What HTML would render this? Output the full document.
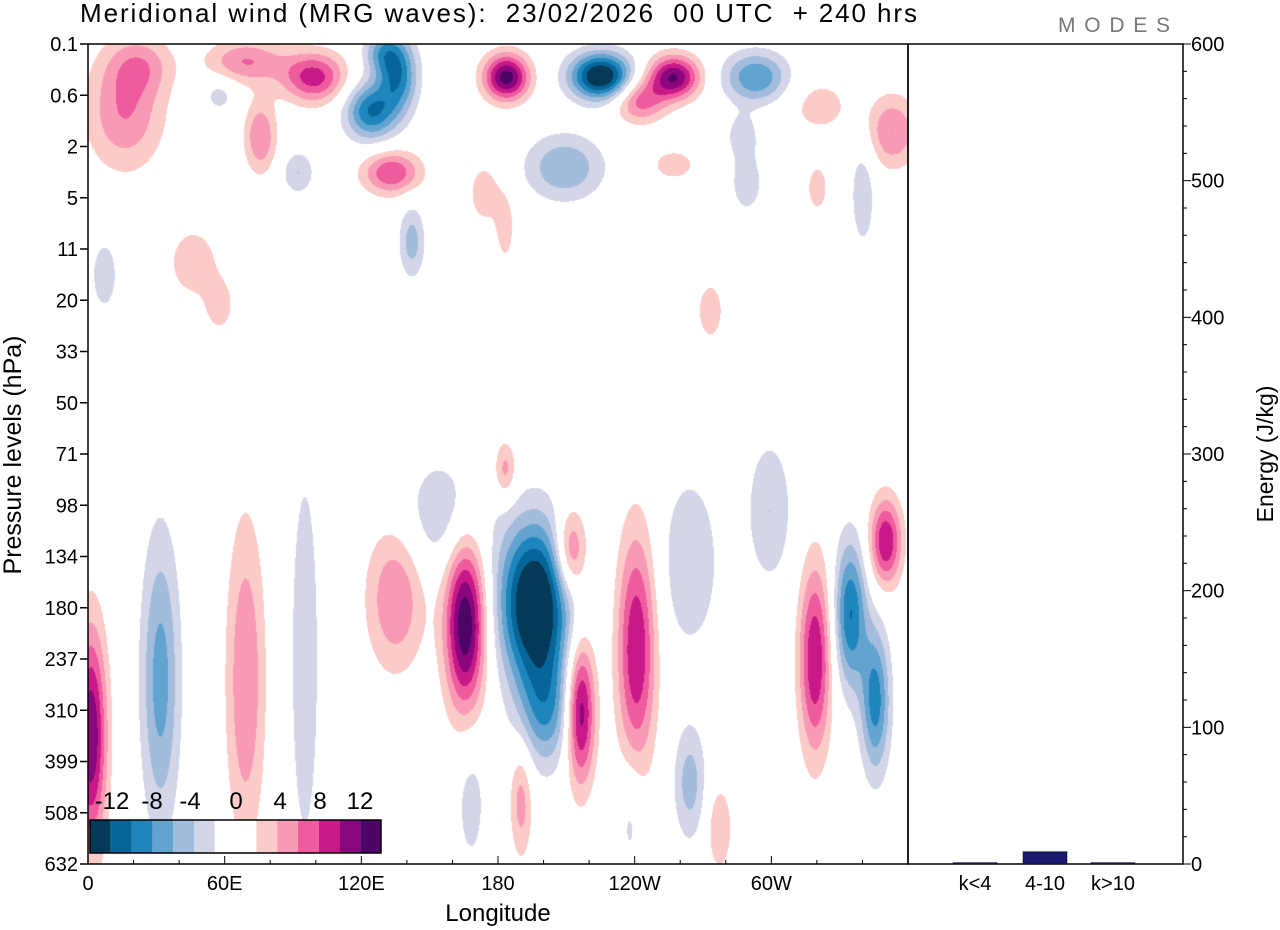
<!DOCTYPE html>
<html><head><meta charset="utf-8"><style>
body{margin:0;background:#fff;font-family:"Liberation Sans",sans-serif;}
#wrap{position:relative;width:1280px;height:930px;overflow:hidden;}
canvas{position:absolute;left:88px;top:44px;}
svg{position:absolute;left:0;top:0;}
text{white-space:pre;}
</style></head><body>
<div id="wrap">
<canvas id="cv" width="820" height="820"></canvas>
<svg id="sv" width="1280" height="930"></svg>
</div>
<script>
// ---- data ----
const levelLabels=["0.1","0.6","2","5","11","20","33","50","71","98","134","180","237","310","399","508","632"];
const lonTicks=[0,60,120,180,240,300];
const lonTickLabels=["0","60E","120E","180","120W","60W"];
const energyTicks=[0,100,200,300,400,500,600];
const energyCats=["k<4","4-10","k>10"];
const energyVals=[1,9,1];
const cbLabels=["-12","-8","-4","0","4","8","12"];
// wind anomaly blobs: longitude (deg east), level index, amplitude (m/s), spread lon (deg), spread level idx
const blobLon=[196,200.6,156,165.5,216,240.6,211.6,183,134.8,1,31.6,69,95,334.5,345.5,350,319,299,264,264,190,277,238,168,
  225,183.5,257,242,293,124,136,129,99,69,16,23,133,174,183,209,57.5,75.5,142,353,321,46,57.5,273,7,340,289,287,92,320,257];
const blobLev=[10.9,13.0,9.2,11.3,13.0,11.8,9.9,8.3,10.8,13.5,12.4,12.4,12.0,11.1,12.8,9.7,12.0,9.1,10.1,14.4,14.75,15.3,15.1,14.75,
  0.62,0.64,0.64,1.1,0.64,1.3,0.6,0.15,0.64,0.33,1.3,0.4,2.5,2.9,3.6,2.4,0.98,1.8,3.85,1.7,1.2,4.25,5.1,5.2,4.5,2.9,2.7,1.75,2.5,2.8,2.35];
const blobAmp=[-16,-7,-4,14,12,10,8,5,6,12,-7,6,-3.5,-10,-9,10,10,-4,-4,-5,5,4,-3,-3,
  -15,13,12,7,-8,-10,-9,-6,9,6,6,4,8,3,3,-6,-3,6,-5,6,3,3.5,3,3,-3,-3.5,-3,-3,-4,4,3];
const blobSx=[11,8.5,13,6.3,4.5,6,5,3.5,9,5,6,6,5,5,4.5,5,5,7,9,5,3.5,4,4,5,
  9.5,7,8,8,10,8,6,6,10,12,12,10,9,6,3,12,5,5,4,8,10,8,5,5,5,4,6,5,5,3,8];
const blobSy=[1.1,0.8,0.8,1.2,1.0,1.6,0.6,0.4,1.0,1.5,2.0,2.2,3.0,1.0,1.0,0.6,1.3,1.0,1.2,0.8,0.8,0.6,0.8,1.0,
  0.32,0.32,0.3,0.3,0.35,0.4,0.5,0.3,0.35,0.3,0.8,0.4,0.3,0.5,0.5,0.45,0.25,0.5,0.5,0.5,0.4,0.5,0.4,0.5,0.6,0.8,0.5,0.3,0.3,0.3,0.25];
const colors=["#033a57","#06669a","#1f86bd","#62a4cf","#a3bcdb","#d3d6e8","#ffffff","#fbcbc8","#f89ab6","#ef5c9e","#c71a88","#8b067e","#4e0366"];
// ---- axes ----
const PX=88,PY=44,PW=820,PH=820;
const xLon=l=>PX+l/360*PW;
const yLev=i=>PY+i*PH/(levelLabels.length-1);
const yE=v=>864-v/600*820;
// ---- field ----
const cv=document.getElementById('cv'),ctx=cv.getContext('2d');
const img=ctx.createImageData(PW,PH);
const rgb=colors.map(c=>[parseInt(c.substr(1,2),16),parseInt(c.substr(3,2),16),parseInt(c.substr(5,2),16)]);
for(let py=0;py<PH;py++){
  const lev=py/(PH/(levelLabels.length-1));
  for(let px=0;px<PW;px++){
    const lon=px/PW*360;let v=0;
    for(let b=0;b<blobLon.length;b++){
      const dx=(lon-blobLon[b])/blobSx[b],dy=(lev-blobLev[b])/blobSy[b];
      const d=dx*dx+dy*dy; if(d<16) v+=blobAmp[b]*Math.exp(-0.5*d);
    }
    let k; if(v<=-12)k=0;else if(v>=12)k=12;else if(v>-2&&v<2)k=6;else if(v<0)k=5-Math.floor((-v-2)/2);else k=7+Math.floor((v-2)/2);
    const o=(py*PW+px)*4,c=rgb[k];img.data[o]=c[0];img.data[o+1]=c[1];img.data[o+2]=c[2];img.data[o+3]=255;
  }
}
ctx.putImageData(img,0,0);
// ---- svg ----
const NS="http://www.w3.org/2000/svg",sv=document.getElementById('sv');
function mk(t,a,txt){const e=document.createElementNS(NS,t);for(const k in a)e.setAttribute(k,a[k]);if(txt!==undefined)e.textContent=txt;sv.appendChild(e);return e;}
let e;
e=mk('text',{x:80,y:22,'font-size':26,textLength:837,lengthAdjust:'spacing'},"Meridional wind (MRG waves):  23/02/2026  00 UTC  + 240 hrs");


e=mk('text',{x:1058,y:32,'font-size':21,fill:'#777',textLength:112,lengthAdjust:'spacing'},"MODES");


// colorbar
for(let i=0;i<14;i++){const ci=i<6?i:(i<8?6:i-1);
  e=mk('rect',{x:90+i*20.8,y:820,width:20.8,height:33,fill:colors[ci]});
  
  }
e=mk('rect',{x:90,y:820,width:291,height:33,fill:'none',stroke:'#000','stroke-width':1.5});


const cbX=[112,152,190,236,280,320,360];
cbLabels.forEach((t,i)=>{e=mk('text',{x:cbX[i],y:809,'font-size':24,'text-anchor':'middle'},t);
  
  });
// frames
e=mk('rect',{x:PX,y:PY,width:PW,height:PH,fill:'none',stroke:'#000','stroke-width':1.5});


e=mk('rect',{x:908,y:PY,width:275,height:PH,fill:'none',stroke:'#000','stroke-width':1.5});


// left axis
levelLabels.forEach((t,i)=>{const y=yLev(i);
  mk('line',{x1:PX-8,x2:PX,y1:y,y2:y,stroke:'#000','stroke-width':1.5});
  e=mk('text',{x:PX-10,y:y+7,'font-size':20,'text-anchor':'end'},t);
  
  });
e=mk('text',{x:0,y:0,'font-size':25,'text-anchor':'middle',transform:'translate(21,455) rotate(-90)'},"Pressure levels (hPa)");


// bottom axis
for(let l=0;l<=360;l+=20){const x=xLon(l),maj=l%60==0;mk('line',{x1:x,x2:x,y1:864,y2:maj?856:860,stroke:'#000','stroke-width':1});}
lonTicks.forEach((l,i)=>{e=mk('text',{x:xLon(l),y:890,'font-size':20,'text-anchor':'middle'},lonTickLabels[i]);
  
  });
e=mk('text',{x:498,y:921,'font-size':24,'text-anchor':'middle'},"Longitude");


// energy axis
for(let v=0;v<=600;v+=20){const y=yE(v),maj=v%100==0;mk('line',{x1:1183,x2:1183+(maj?8:4),y1:y,y2:y,stroke:'#000','stroke-width':1});}
energyTicks.forEach(v=>{e=mk('text',{x:1191,y:yE(v)+7,'font-size':20},String(v));
  
  });
e=mk('text',{x:0,y:0,'font-size':23,'text-anchor':'middle',transform:'translate(1273,454) rotate(-90)'},"Energy (J/kg)");


const catX=[975,1045,1113];
energyCats.forEach((c,i)=>{
  const h=864-yE(energyVals[i]);
  e=mk('rect',{x:catX[i]-22,y:864-h,width:44,height:Math.max(h,1),fill:'#1a1a6e',stroke:'#000','stroke-width':0.5});
  
  
  e=mk('text',{x:catX[i],y:890,'font-size':20,'text-anchor':'middle'},c);
  
  
});
</script>
</body></html>
